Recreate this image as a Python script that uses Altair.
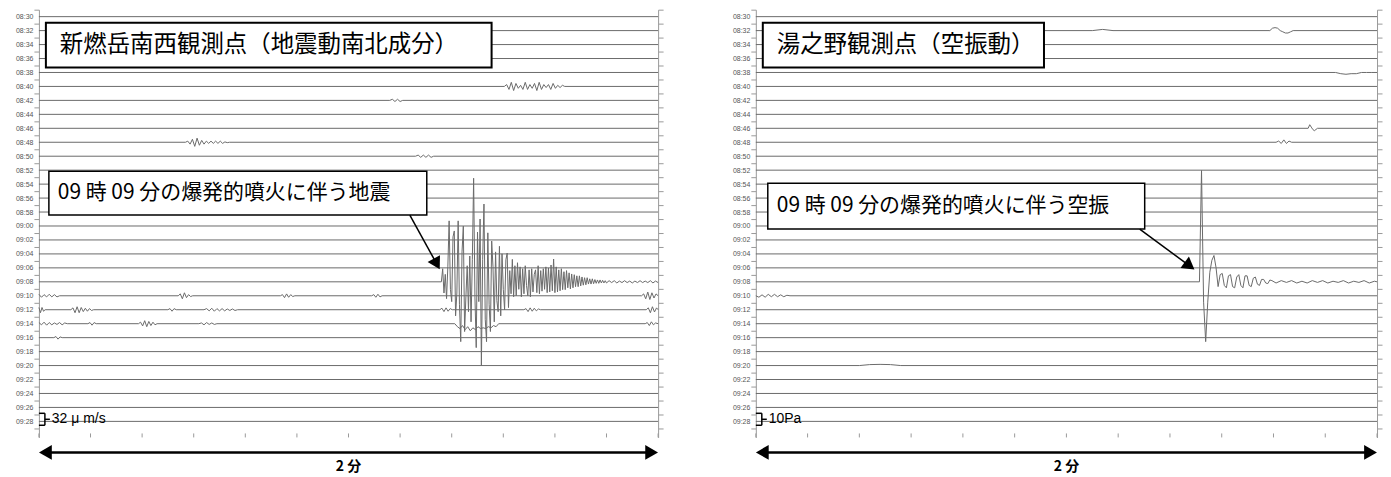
import json
import altair as alt
import pandas as pd

# ---------------- data ----------------
ROW_LABELS = ["08:30", "08:32", "08:34", "08:36", "08:38", "08:40", "08:42", "08:44", "08:46", "08:48",
              "08:50", "08:52", "08:54", "08:56", "08:58", "09:00", "09:02", "09:04", "09:06", "09:08",
              "09:10", "09:12", "09:14", "09:16", "09:18", "09:20", "09:22", "09:24", "09:26", "09:28"]
ROW_MIN = list(range(0, 60, 2))          # minutes after 08:30
Y_TICK_MIN = list(range(-1, 60))         # minute ticks
X_TICK_S = list(range(0, 121, 10))       # seconds along a row
T_END = 120

LEFT_TITLE = "新燃岳南西観測点（地震動南北成分）"
RIGHT_TITLE = "湯之野観測点（空振動）"
LEFT_NOTE = "09 時 09 分の爆発的噴火に伴う地震"
RIGHT_NOTE = "09 時 09 分の爆発的噴火に伴う空振"
LEFT_SCALE_VALUE = 32      # µm/s
LEFT_SCALE_TEXT = "32 μ m/s"
RIGHT_SCALE_VALUE = 10     # Pa
RIGHT_SCALE_TEXT = "10Pa"
SPAN_TEXT = "2 分"

# earthquake waveform on the 09:08 row (µm/s), 0.25 s samples from 78.0 s
EQ_AMP = [0, 35, -30, 20, -45, 40, 163, -20, -53, 120, 136, -91, -30, 163, -60, -160, 80, 149, -133, -40,
          43, -80, 69, -107, 60, 277, -40, -176, 133, -53, 168, -224, 60, 208, -100, -160, 131, -60, -133, 109,
          40, -107, 80, -50, -80, 95, -91, 75, -20, -75, 59, 77, -69, 30, -32, 60, -40, 43, -37, 51,
          -20, 40, -40, 35, -32, 43, -10, -37, 32, -40, 35, -27, 20, 32, -29, 43, -32, 30, -25, 35,
          -20, 40, -29, 37, -27, 45, -24, 61, -29, 40, -27, 32, -24, 35, -21, 27, -21, 30, -16, 24,
          -19, 21, -16, 19, -13, 16, -13, 16, -11, 13, -9, 11, -8, 11, -6, 8, -6, 8, -5, 6,
          -4, 5, -4, 5, -3, 4, -3, 3, -3]

# seismic bursts, left panel (µm/s)
LEFT_BURST_ROW = ["09:08", "09:08", "08:40", "08:42", "08:48", "08:50",
                  "09:10", "09:10", "09:10", "09:10", "09:10",
                  "09:12", "09:12", "09:12", "09:12", "09:12", "09:12", "09:12",
                  "09:14", "09:14", "09:14", "09:14", "09:14", "09:14",
                  "09:16"]
LEFT_BURST_T0 = [78.0, 110.5, 90.2, 68.0, 28.4, 73.0,
                 0.0, 27.0, 46.8, 64.5, 116.8,
                 0.0, 6.2, 25.0, 32.0, 77.7, 94.0, 117.7,
                 0.0, 9.5, 19.3, 31.0, 80.6, 117.5,
                 2.9]
LEFT_BURST_DT = [0.25, 0.5, 0.45, 0.5, 0.45, 0.5,
                 0.5, 0.4, 0.4, 0.4, 0.4,
                 0.3, 0.4, 0.4, 0.5, 0.4, 0.4, 0.4,
                 0.5, 0.4, 0.4, 0.5, 0.5, 0.4,
                 0.4]
LEFT_BURST_AMP = [
    EQ_AMP,
    [3, -2, 3, -3, 2, -2, 3, -2, 2, -3, 2, -2, 3, -2, 2, -2, 3, -3, 2, -2],
    [0, 5, -8, 11, -11, 8, -5, 3, -8, 11, -8, 5, -5, 8, -11, 11, -8, 5, -3, 5, -8, 8, -5, 3, -3, 3, 0],
    [0, 3, -3, 3, -3, 0],
    [0, 3, -5, 8, -11, 11, -8, 5, -5, 3, -3, 3, -3, 3, -3, 3, -3, 1, -1, 0],
    [0, 3, -3, 3, -3, 3, -3, 0],
    [4, -4, 3, -3, 4, -3, 3, -3, 0],
    [0, 5, -8, 8, -5, 3, -2, 0],
    [0, 3, -5, 5, -4, 3, -2, 0],
    [0, 3, -4, 4, -3, 0],
    [0, 5, -8, 10, -10, 8, -6, 5],
    [6, -8, 6, -4, 0],
    [0, 5, -8, 8, -8, 6, -5, 4, -4, 3, -2, 0],
    [0, 3, -4, 3, 0],
    [0, 3, -3, 4, -4, 3, -3, 3, -3, 2, -2, 2, -2, 0],
    [0, 4, -5, 5, -4, 3, 0],
    [0, 3, -5, 5, -4, 4, -3, 2, 0],
    [0, 5, -8, 8, -6, 5],
    [3, -3, 4, -4, 3, -3, 2, -2, 3, -3, 2, 0],
    [0, 3, -4, 3, 0],
    [0, 4, -6, 8, -8, 6, -5, 4, -3, 0],
    [0, 2, -3, 3, -2, 2, -2, 0],
    [0, -8, -13, -5, -16, -8, -19, -11, -16, -8, -13, -11, -13, -8, -11, -5, -8, 0],
    [0, 3, -5, 5, -3, 2],
    [0, 3, -4, 2, 0],
]

# infrasound wave on the 09:08 row (Pa), 0.4 s samples from 85.7 s
AIR_AMP = [0, 93, -17, -50, -17, 8, 18, 22, 12, -4, 6, 7, -3, -5, 5, 6, -4, -5, 4, 6,
           -3, -5, 5, 5, -3, -4, 3, 4, -2, -3, 2, 2, -1, -1.5, 1.5, 1]

# infrasound, right panel (Pa)
RIGHT_BURST_ROW = ["09:08", "09:08", "08:32", "08:32", "08:46", "08:48", "09:10", "09:20", "08:38"]
RIGHT_BURST_T0 = [85.7, 100.5, 99.3, 65.0, 106.7, 100.5, 0.0, 20.0, 112.0]
RIGHT_BURST_DT = [0.4, 1.0, 0.5, 2.0, 0.3, 0.5, 0.6, 2.0, 1.0]
RIGHT_BURST_AMP = [
    AIR_AMP,
    [-1, 1, -0.5, 1, -1, 0.5, -1, 1, -0.5, 1, -1, 0.5, -0.5, 1, -1, 0.5, -0.5, 1, -1, 0.5],
    [0, 2, 2.5, 2, 0, -1, -2, -2, -1, 0],
    [0, 1, 0],
    [0, 3, 1, -1, -2, -1, 0],
    [0, 1, -1, 2, -1, 1, 0],
    [0, -1.2, 0.8, -1.2, 1.2, -0.8, 1.2, -0.8, 0.8, -0.8, 0.4, 0],
    [0, 0.8, 1, 0.8, 0],
    [0, -1, -1.5, -1, -1, 0, 0, 0],
]

# ---------------- layout ----------------
W_L, W_R, H = 621, 623, 429
Y_DOMAIN = [-1.0, 60.3]
PX_PER_MIN = H / (Y_DOMAIN[1] - Y_DOMAIN[0])
SCALE_BAR_MIN = 12 / PX_PER_MIN          # the scale bracket is 12 px tall
BRACKET_CENTER_MIN = 57.7
TRACE_COLOR = "#6a6a6a"
AXIS_COLOR = "#9a9a9a"
JP_FONT = "Noto Sans CJK JP"


def trace_table(rows, t0s, dts, amps, scale_value):
    k = SCALE_BAR_MIN / scale_value
    recs = []
    for lab, m in zip(ROW_LABELS, ROW_MIN):
        pts = {0.0: 0.0, float(T_END): 0.0}
        for r, t0, dt, a in zip(rows, t0s, dts, amps):
            if r != lab:
                continue
            for i, v in enumerate(a):
                t = round(t0 + i * dt, 3)
                if 0 <= t <= T_END:
                    pts[t] = v
        for t in sorted(pts):
            recs.append({"row": lab, "t": t, "y": m - pts[t] * k})
    return pd.DataFrame(recs)


label_list = [ROW_LABELS[ROW_MIN.index(v)] if v in ROW_MIN else "" for v in Y_TICK_MIN]
LABEL_EXPR = json.dumps(label_list) + "[datum.value - (%d)]" % Y_TICK_MIN[0]
ODD_TICKS = [v for v in Y_TICK_MIN if v % 2 != 0]

y_scale = alt.Scale(domain=Y_DOMAIN, reverse=True, nice=False, zero=False)
x_scale = alt.Scale(domain=[0, T_END], nice=False, zero=False)
ONE = alt.Data(values=[{"k": 0}])


def panel(df, width, title, title_box, note, note_box, arrow, scale_text):
    left_axis = alt.Axis(orient="left", values=Y_TICK_MIN, labelExpr=LABEL_EXPR,
                         tickOpacity={"condition": {"test": "datum.value % 2 == 0", "value": 0}, "value": 1},
                         tickSize=5, tickColor=AXIS_COLOR, domainColor=AXIS_COLOR, labelFontSize=7,
                         labelColor="#555555", labelFont="Liberation Sans", labelPadding=1, grid=False,
                         title=None)
    right_axis = alt.Axis(orient="right", values=ODD_TICKS, labels=False, tickSize=5, tickColor=AXIS_COLOR,
                          domainColor=AXIS_COLOR, grid=False, title=None)
    x_axis = alt.Axis(labels=False, ticks=False, domainColor=AXIS_COLOR, grid=False, title=None)

    traces = alt.Chart(df).mark_line(color=TRACE_COLOR, strokeWidth=1).encode(
        x=alt.X("t:Q", scale=x_scale, axis=x_axis),
        y=alt.Y("y:Q", scale=y_scale, axis=left_axis),
        detail="row:N",
        order="t:Q",
    )
    rax = alt.Chart(df).mark_line(opacity=0).encode(
        x=alt.X("t:Q", scale=x_scale, axis=None),
        y=alt.Y("y:Q", scale=y_scale, axis=right_axis),
        detail="row:N",
    )
    xticks = alt.Chart(pd.DataFrame({"t": X_TICK_S})).mark_rule(color=AXIS_COLOR, strokeWidth=1).encode(
        x=alt.X("t:Q", scale=x_scale, axis=None),
        y=alt.value(H - 4), y2=alt.value(H),
    )

    bx0, bx1, by0, by1 = title_box
    tbox = alt.Chart(ONE).mark_rect(fill="white", stroke="black", strokeWidth=2).encode(
        x=alt.value(bx0), x2=alt.value(bx1), y=alt.value(by0), y2=alt.value(by1))
    ttext = alt.Chart(ONE).mark_text(align="left", baseline="middle", fontSize=23.5, font=JP_FONT,
                                     color="black").encode(
        x=alt.value(bx0 + 14), y=alt.value((by0 + by1) / 2), text=alt.value(title))

    nx0, nx1, ny0, ny1 = note_box
    nbox = alt.Chart(ONE).mark_rect(fill="white", stroke="black", strokeWidth=1.5).encode(
        x=alt.value(nx0), x2=alt.value(nx1), y=alt.value(ny0), y2=alt.value(ny1))
    ntext = alt.Chart(ONE).mark_text(align="left", baseline="middle", fontSize=21, font=JP_FONT,
                                     color="black").encode(
        x=alt.value(nx0 + 9), y=alt.value((ny0 + ny1) / 2), text=alt.value(note))

    ax0, ay0, ax1, ay1, ang = arrow
    aline = alt.Chart(ONE).mark_rule(color="black", strokeWidth=1.5).encode(
        x=alt.value(ax0), y=alt.value(ay0), x2=alt.value(ax1), y2=alt.value(ay1))
    ahead = alt.Chart(ONE).mark_point(shape="triangle-right", filled=True, color="black", opacity=1,
                                      size=200, angle=ang).encode(x=alt.value(ax1), y=alt.value(ay1))

    half = SCALE_BAR_MIN / 2
    bdf = pd.DataFrame({"top": [BRACKET_CENTER_MIN - half], "mid": [BRACKET_CENTER_MIN],
                        "bot": [BRACKET_CENTER_MIN + half]})
    bk = alt.Chart(bdf)
    b1 = bk.mark_rule(color="black", strokeWidth=1.5).encode(
        x=alt.value(6), y=alt.Y("top:Q", scale=y_scale, axis=None), y2="bot:Q")
    b2 = bk.mark_rule(color="black", strokeWidth=1.5).encode(
        x=alt.value(0), x2=alt.value(6), y=alt.Y("top:Q", scale=y_scale, axis=None))
    b3 = bk.mark_rule(color="black", strokeWidth=1.5).encode(
        x=alt.value(0), x2=alt.value(6), y=alt.Y("bot:Q", scale=y_scale, axis=None))
    b4 = bk.mark_rule(color="black", strokeWidth=1.5).encode(
        x=alt.value(6), x2=alt.value(11), y=alt.Y("mid:Q", scale=y_scale, axis=None))
    btxt = bk.mark_text(align="left", baseline="middle", fontSize=14, font="Liberation Sans",
                        color="black").encode(
        x=alt.value(13), y=alt.Y("mid:Q", scale=y_scale, axis=None), text=alt.value(scale_text))

    span = alt.Chart(ONE).mark_rule(color="black", strokeWidth=2.5).encode(
        x=alt.value(10), x2=alt.value(width - 10), y=alt.value(H + 15))
    hl = alt.Chart(ONE).mark_point(shape="triangle-left", filled=True, color="black", opacity=1,
                                   size=220).encode(x=alt.value(6.5), y=alt.value(H + 15))
    hr = alt.Chart(ONE).mark_point(shape="triangle-right", filled=True, color="black", opacity=1,
                                   size=220).encode(x=alt.value(width - 6.5), y=alt.value(H + 15))
    stext = alt.Chart(ONE).mark_text(align="center", baseline="middle", fontSize=14, fontWeight="bold",
                                     font=JP_FONT, color="black").encode(
        x=alt.value(width / 2), y=alt.value(H + 30), text=alt.value(SPAN_TEXT))

    return alt.layer(traces, rax, xticks, tbox, ttext, nbox, ntext, aline, ahead,
                     b1, b2, b3, b4, btxt, span, hl, hr, stext).resolve_axis(y="independent").properties(
        width=width, height=H)


left_df = trace_table(LEFT_BURST_ROW, LEFT_BURST_T0, LEFT_BURST_DT, LEFT_BURST_AMP, LEFT_SCALE_VALUE)
right_df = trace_table(RIGHT_BURST_ROW, RIGHT_BURST_T0, RIGHT_BURST_DT, RIGHT_BURST_AMP, RIGHT_SCALE_VALUE)

left = panel(left_df, W_L, LEFT_TITLE, (7, 454, 13, 58), LEFT_NOTE, (10, 389, 162, 206),
             (372, 206, 399, 255, 61), LEFT_SCALE_TEXT)
right = panel(right_df, W_R, RIGHT_TITLE, (7, 289, 13, 58), RIGHT_NOTE, (12, 390, 174, 220),
              (385, 220, 435, 257, 37), RIGHT_SCALE_TEXT)

chart = alt.hconcat(left, right, spacing=68).properties(
    padding={"left": 7, "top": 0, "right": 0, "bottom": 0}
).configure_view(strokeWidth=0)

chart.save("out.html", embed_options={"renderer": "svg", "actions": False})
